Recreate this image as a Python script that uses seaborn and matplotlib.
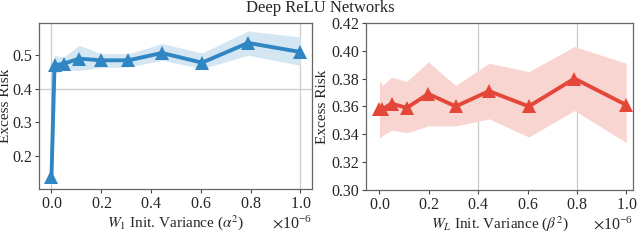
import numpy as np
import pandas as pd
import seaborn as sns
import matplotlib.pyplot as plt
from matplotlib.ticker import ScalarFormatter

# init variances (x 1e-6)
variance = [0.0, 0.0123, 0.049, 0.111, 0.198, 0.309, 0.444, 0.605, 0.790, 1.0]

# W_1 sweep
risk_w1 = [0.137, 0.470, 0.475, 0.490, 0.485, 0.485, 0.507, 0.478, 0.537, 0.510]
lo_w1 = [0.130, 0.445, 0.455, 0.455, 0.463, 0.465, 0.485, 0.460, 0.500, 0.470]
hi_w1 = [0.144, 0.500, 0.495, 0.530, 0.505, 0.505, 0.535, 0.507, 0.573, 0.555]

# W_L sweep
risk_wl = [0.358, 0.358, 0.362, 0.359, 0.369, 0.360, 0.371, 0.360, 0.380, 0.361]
lo_wl = [0.337, 0.339, 0.343, 0.341, 0.346, 0.346, 0.351, 0.338, 0.357, 0.334]
hi_wl = [0.379, 0.375, 0.381, 0.378, 0.392, 0.375, 0.391, 0.385, 0.403, 0.391]

blue = '#2f86c3'
red = '#e4473a'

sns.set_style('ticks')
plt.rcParams['font.family'] = ['Liberation Serif', 'DejaVu Serif']
plt.rcParams['mathtext.fontset'] = 'stix'
plt.rcParams['font.size'] = 11
plt.rcParams['xtick.labelsize'] = 11.5
plt.rcParams['ytick.labelsize'] = 11.5

fig = plt.figure(figsize=(6.4, 2.41), dpi=100)
ax1 = fig.add_axes([0.061, 0.216, 0.4265, 0.689])
ax2 = fig.add_axes([0.572, 0.212, 0.417, 0.693])

x = np.array(variance) * 1e-6

def panel(ax, y, lo, hi, color, band, xlabel, ylim, yticks, xlim, grid_x, grid_y, ylab_x):
    df = pd.DataFrame({'x': x, 'y': y})
    ax.fill_between(x, lo, hi, color=band, lw=0, zorder=1)
    sns.lineplot(data=df, x='x', y='y', ax=ax, color=color, lw=2.8,
                 marker='^', markersize=10, markeredgewidth=0, zorder=3)
    ax.set_xlim(xlim[0] * 1e-6, xlim[1] * 1e-6)
    ax.set_ylim(*ylim)
    ax.set_yticks(yticks)
    ax.set_xticks(np.arange(0, 1.01, 0.2) * 1e-6)
    fmt = ScalarFormatter(useMathText=True)
    fmt.set_powerlimits((0, 0))
    ax.xaxis.set_major_formatter(fmt)
    ax.set_xlabel(xlabel, labelpad=1)
    ax.set_ylabel('Excess Risk')
    ax.yaxis.set_label_coords(ylab_x, 0.5)
    ax.tick_params(length=3, width=0.8, pad=2, color='#444444')
    for s in ax.spines.values():
        s.set_color('#666666')
        s.set_linewidth(0.9)
    ax.grid(True, color='#cccccc', lw=0.9, zorder=0)
    for tick, gl in zip(ax.get_xticks(), ax.xaxis.get_gridlines()):
        gl.set_visible(round(tick * 1e6, 1) in grid_x)
    for tick, gl in zip(ax.get_yticks(), ax.yaxis.get_gridlines()):
        gl.set_visible(round(tick, 2) in grid_y)

panel(ax1, risk_w1, lo_w1, hi_w1, blue, '#d5e6f3',
      r'$W_1$ Init. Variance ($\alpha^2$)', (0.10, 0.597),
      [0.2, 0.3, 0.4, 0.5], (-0.05, 1.047), [0.0, 1.0], [0.4], -0.098)
panel(ax2, risk_wl, lo_wl, hi_wl, red, '#f9d5d1',
      r'$W_L$ Init. Variance ($\beta^2$)', (0.30, 0.42),
      [0.30, 0.32, 0.34, 0.36, 0.38, 0.40, 0.42], (-0.054, 1.027), [0.4, 0.8], [], -0.14)
ax2.yaxis.set_major_formatter(plt.FormatStrFormatter('%.2f'))

fig.suptitle('Deep ReLU Networks', x=0.5, y=1.0, fontsize=12)

fig.savefig('out.png', dpi=100)
